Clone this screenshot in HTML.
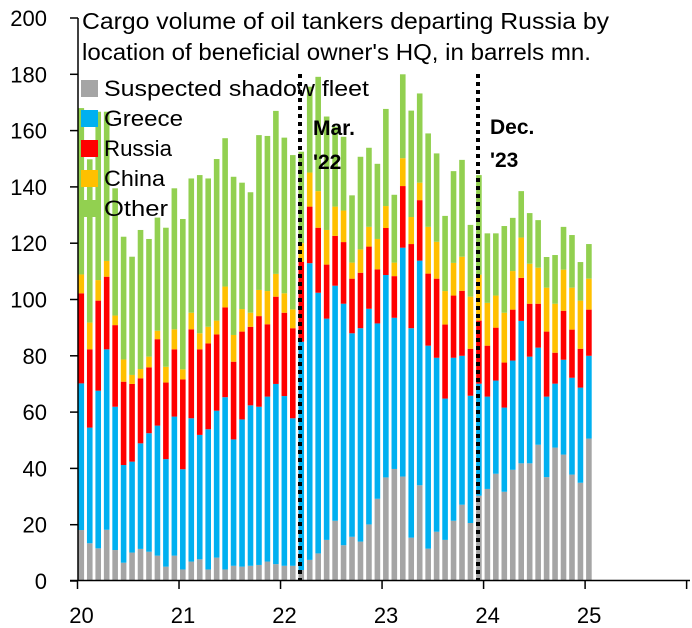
<!DOCTYPE html>
<html><head><meta charset="utf-8"><style>
body{margin:0;background:#fff;}
svg{display:block;font-family:"Liberation Sans",sans-serif;}
</style></head><body>
<svg id="chart" width="692" height="628" viewBox="0 0 692 628" xmlns="http://www.w3.org/2000/svg">
<g id="bars"></g>
<g id="axes"></g>
<text x="82" y="29" font-size="23" textLength="527" lengthAdjust="spacingAndGlyphs" fill="#000">Cargo volume of oil tankers departing Russia by</text>
<text x="82" y="60" font-size="23" textLength="509" lengthAdjust="spacingAndGlyphs" fill="#000">location of beneficial owner's HQ, in barrels mn.</text>
<g id="legend"></g>
<line x1="300" y1="74" x2="300" y2="581" stroke="#000" stroke-width="4" stroke-dasharray="4,4"/>
<line x1="478" y1="74" x2="478" y2="581" stroke="#000" stroke-width="4" stroke-dasharray="4,4"/>
<text x="313" y="135" font-size="21" font-weight="bold">Mar.</text>
<text x="313" y="169" font-size="21" font-weight="bold">'22</text>
<text x="490" y="134" font-size="21" font-weight="bold">Dec.</text>
<text x="490" y="167" font-size="21" font-weight="bold">'23</text>
</svg>
<script>
const seriesNames = ["Suspected shadow fleet","Greece","Russia","China","Other"];
const seriesColors = ["#a5a5a5","#00b0f0","#ff0000","#ffc000","#92d050"];
const legendWidths = [265,79,68,61,64];
const shadowFleet = [18.1,13.4,11.6,18.2,11.0,6.5,10.1,11.4,10.4,9.0,5.1,9.0,4.1,6.9,7.7,4.1,8.3,4.1,5.4,5.1,5.4,5.7,6.9,6.0,5.4,5.4,3.9,7.5,9.8,14.6,21.4,12.7,15.7,14.0,20.1,29.2,36.8,39.8,37.1,15.4,34.0,11.5,17.5,14.6,21.4,27.1,20.6,30.3,32.7,38.1,31.7,39.5,41.8,41.8,48.4,36.9,47.4,44.9,37.8,34.9,50.6];
const greece = [52.1,41.1,56.0,64.1,50.9,34.7,32.3,37.5,42.1,46.2,38.2,49.4,35.6,50.9,44.2,49.8,52.2,61.2,44.9,52.3,57.0,56.2,58.6,64.0,60.3,52.4,81.1,105.4,92.6,78.6,83.5,85.8,72.3,75.8,76.6,62.3,71.9,53.7,81.3,74.4,79.8,72.1,61.8,50.2,57.9,52.9,45.2,39.8,32.8,33.1,29.9,38.8,50.6,37.9,34.5,28.6,22.7,33.7,34.4,33.8,29.4];
const russia = [32.0,27.8,32.0,25.8,29.0,29.6,27.6,23.1,23.4,30.7,27.2,23.9,31.9,31.6,30.4,30.5,27.1,31.9,27.6,31.2,27.9,32.2,25.7,31.0,29.6,32.0,28.4,20.1,23.1,19.2,17.7,21.9,19.4,19.7,22.1,19.2,16.7,14.8,21.9,29.9,21.5,25.6,28.1,26.3,22.1,23.1,16.7,22.4,18.1,18.8,16.0,18.1,15.3,18.8,15.6,23.1,11.0,17.4,17.1,13.8,16.4];
const china = [6.7,9.5,7.3,5.6,3.4,7.9,3.2,3.3,3.8,3.0,5.6,7.1,3.6,5.9,5.7,5.9,4.9,7.4,9.5,8.0,5.0,9.3,11.8,8.1,6.9,6.7,6.6,12.1,13.0,12.3,10.4,11.2,5.7,8.3,7.0,10.8,7.8,4.8,9.9,9.6,6.2,16.6,13.1,11.9,11.6,12.1,18.5,16.3,15.2,11.4,17.7,13.7,14.3,14.2,12.8,15.6,17.4,14.6,14.9,17.1,11.0];
const other = [59.1,58.0,59.8,53.0,45.2,43.6,42.0,49.4,41.8,40.2,49.4,50.1,53.4,47.7,56.2,52.7,57.4,52.7,56.2,44.9,42.8,55.0,55.1,57.9,55.3,54.8,32.5,30.5,40.6,40.3,28.4,26.2,23.9,32.9,28.1,26.7,34.5,24.1,29.8,37.8,31.7,33.2,31.4,26.7,32.6,34.4,25.5,35.4,24.7,22.1,30.8,18.9,16.5,18.0,16.9,10.9,17.3,15.2,18.7,13.7,12.3];
const yTicks = [0,20,40,60,80,100,120,140,160,180,200];
const xTickLabels = ["20","21","22","23","24","25"];
const allSeries = [shadowFleet, greece, russia, china, other];

const NS = "http://www.w3.org/2000/svg";
const x0 = 78.5, monthW = 8.46, y0 = 581, yScale = 2.815;
function xPos(i){ return x0 + i*monthW; }
function yPos(v){ return y0 - v*yScale; }
function mk(tag, attrs){ const e=document.createElementNS(NS,tag); for(const k in attrs) e.setAttribute(k, attrs[k]); return e; }

const gb = document.getElementById('bars');
for (let i=0;i<shadowFleet.length;i++){
  let cum = 0;
  for (let s=0;s<allSeries.length;s++){
    const v = allSeries[s][i];
    const r = mk('rect',{x:xPos(i), y:yPos(cum+v), width:5.6, height:v*yScale, fill:seriesColors[s]});
    
    
    gb.appendChild(r);
    cum += v;
  }
}

const ga = document.getElementById('axes');
const yl = mk('line',{x1:78,y1:yPos(200),x2:78,y2:581,stroke:'#000','stroke-width':1.5});


ga.appendChild(yl);
const xl = mk('line',{x1:70,y1:580.5,x2:690,y2:580.5,stroke:'#000','stroke-width':1.5});


ga.appendChild(xl);
yTicks.forEach(t=>{
  const tk = mk('line',{x1:70,y1:yPos(t),x2:78,y2:yPos(t),stroke:'#000','stroke-width':1.5});
  
  
  ga.appendChild(tk);
  const tx = mk('text',{x:47,y:yPos(t)+8,'font-size':22,'text-anchor':'end'});
  tx.textContent = t;
  
  
  ga.appendChild(tx);
});
for (let k=0;k<=6;k++){
  const xx = 77.5 + k*12*monthW;
  const tk = mk('line',{x1:xx,y1:581,x2:xx,y2:589,stroke:'#000','stroke-width':1.5});
  
  
  ga.appendChild(tk);
  if (k < xTickLabels.length){
    const tx = mk('text',{x:xx+4,y:623,'font-size':22,'text-anchor':'middle'});
    tx.textContent = xTickLabels[k];
    
    
    ga.appendChild(tx);
  }
}

const gl = document.getElementById('legend');
seriesNames.forEach((n,s)=>{
  const yy = 80 + s*30;
  const r = mk('rect',{x:81,y:yy,width:17,height:17,fill:seriesColors[s]});
  
  
  gl.appendChild(r);
  const t = mk('text',{x:104,y:yy+16,'font-size':22,textLength:legendWidths[s],lengthAdjust:'spacingAndGlyphs'});
  t.textContent = n;
  
  
  gl.appendChild(t);
});
</script>
</body></html>
